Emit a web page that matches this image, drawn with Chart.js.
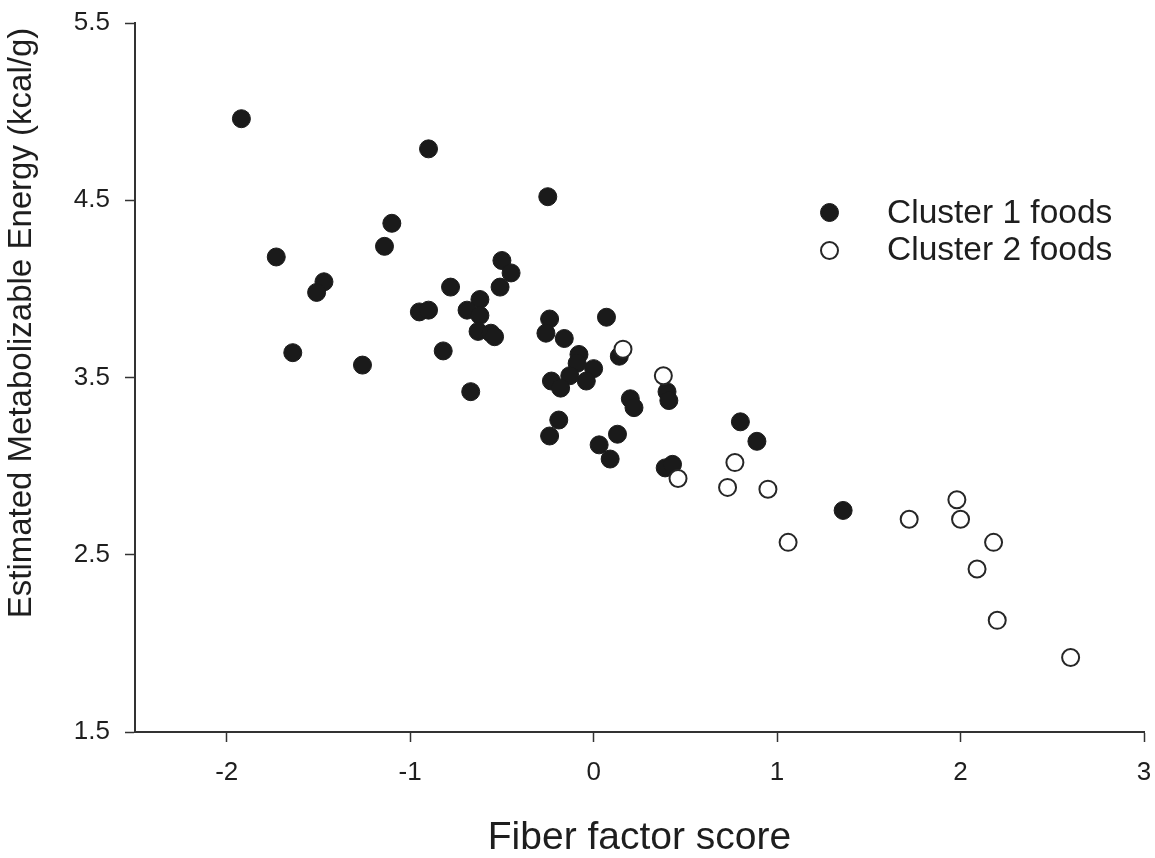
<!DOCTYPE html>
<html>
<head>
<meta charset="utf-8">
<title>Fiber factor score vs estimated metabolizable energy</title>
<script src="https://cdn.jsdelivr.net/npm/chart.js@4/dist/chart.umd.min.js"></script>
<style>
    html, body { margin: 0; padding: 0; background: #fff; }
    .wrap { position: relative; width: 1155px; height: 858px; }
    .legend { position: absolute; left: 0; top: 0; font-family: 'Liberation Sans', Arial, sans-serif; font-size: 33.5px; color: #1e1e1e; }
    .legend-row { position: absolute; white-space: nowrap; line-height: 37px; }
    .legend-mark { position: absolute; box-sizing: border-box; border-radius: 50%; }
</style>
</head>
<body>
<div class="wrap">
    <canvas id="chart"></canvas>
    <div class="legend" id="legend"></div>
</div>
<script>
// values
const cluster1X = [-1.92, -0.90, -1.10, -1.14, -1.73, -0.50, -0.45, -1.47, -1.51, -0.78,
    -0.51, -0.62, -0.95, -0.90, -0.69, -0.62, -0.63, -0.56, -0.54, -1.64,
    -0.82, -1.26, -0.67, -0.25, -0.24, -0.26, -0.16, 0.07, 0.14, -0.08,
    -0.09, 0.00, -0.04, -0.13, -0.23, -0.18, 0.40, 0.41, 0.20, 0.22,
    -0.19, -0.24, 0.13, 0.03, 0.09, 0.39, 0.43, 0.80, 0.89, 1.36];
const cluster1Y = [4.96, 4.79, 4.37, 4.24, 4.18, 4.16, 4.09, 4.04, 3.98, 4.01,
    4.01, 3.94, 3.87, 3.88, 3.88, 3.85, 3.76, 3.75, 3.73, 3.64,
    3.65, 3.57, 3.42, 4.52, 3.83, 3.75, 3.72, 3.84, 3.62, 3.63,
    3.58, 3.55, 3.48, 3.51, 3.48, 3.44, 3.42, 3.37, 3.38, 3.33,
    3.26, 3.17, 3.18, 3.12, 3.04, 2.99, 3.01, 3.25, 3.14, 2.75];
const cluster2X = [0.16, 0.38, 0.46, 0.77, 0.73, 0.95, 1.06, 1.72, 1.98, 2.00, 2.18, 2.09, 2.20, 2.60];
const cluster2Y = [3.66, 3.51, 2.93, 3.02, 2.88, 2.87, 2.57, 2.70, 2.81, 2.70, 2.57, 2.42, 2.13, 1.92];
const seriesLabels = ['Cluster 1 foods', 'Cluster 2 foods'];
const xTicks = [-2, -1, 0, 1, 2, 3];
const yTicks = [1.5, 2.5, 3.5, 4.5, 5.5];

const fontFamily = "'Liberation Sans', Arial, sans-serif";
const ink = '#1e1e1e';
const axisColor = '#333333';

function toPoints(xs, ys) {
    return xs.map((x, i) => ({ x, y: ys[i] }));
}

// y title sits a little above the axis centre in the original, so draw it here
const yTitlePlugin = {
    id: 'yTitle',
    afterDraw(chart, args, opts) {
        const { ctx } = chart;
        ctx.save();
        ctx.translate(opts.x, opts.y);
        ctx.rotate(-Math.PI / 2);
        ctx.font = `${opts.size}px ${fontFamily}`;
        ctx.fillStyle = ink;
        ctx.textAlign = 'center';
        ctx.textBaseline = 'middle';
        ctx.fillText(opts.text, 0, 0);
        ctx.restore();
    },
};

function axis(ticks, extra) {
    return {
        type: 'linear',
        afterBuildTicks: (scale) => {
            scale.ticks = ticks.map((v) => ({ value: v }));
        },
        border: { display: true, color: axisColor, width: 2 },
        grid: {
            display: true,
            drawOnChartArea: false,
            drawTicks: true,
            tickLength: 10,
            tickColor: axisColor,
            tickWidth: 1.5,
        },
        ...extra,
    };
}

const canvas = document.getElementById('chart');
const chart = new Chart(canvas, {
    type: 'scatter',
    data: {
        datasets: [
            {
                label: seriesLabels[0],
                data: toPoints(cluster1X, cluster1Y),
                backgroundColor: '#1a1a1a',
                borderColor: '#1a1a1a',
                borderWidth: 1,
                pointRadius: 9,
                order: 1,
            },
            {
                label: seriesLabels[1],
                data: toPoints(cluster2X, cluster2Y),
                backgroundColor: '#ffffff',
                borderColor: '#262626',
                borderWidth: 2,
                pointRadius: 8.5,
                order: 0,
            },
        ],
    },
    options: {
        responsive: true,
        maintainAspectRatio: false,
        animation: false,
        events: [],
        layout: { padding: { top: 23, right: 11, left: 0, bottom: 0 } },
        font: { family: fontFamily },
        plugins: {
            legend: { display: false },
            tooltip: { enabled: false },
            yTitle: { text: 'Estimated Metabolizable Energy (kcal/g)', x: 22, y: 323, size: 33 },
        },
        scales: {
            x: axis(xTicks, {
                min: -2.5,
                max: 3,
                afterFit: (scale) => {
                    scale.height = 126;
                    scale.paddingLeft = 0;
                    scale.paddingRight = 0;
                },
                ticks: { color: ink, padding: 15, font: { family: fontFamily, size: 26 } },
                title: {
                    display: true,
                    text: 'Fiber factor score',
                    color: ink,
                    font: { family: fontFamily, size: 39, lineHeight: 1 },
                    padding: { top: 0, bottom: 0 },
                },
            }),
            y: axis(yTicks, {
                min: 1.5,
                max: 5.5,
                afterFit: (scale) => {
                    scale.width = 135;
                    scale.paddingTop = 0;
                    scale.paddingBottom = 0;
                },
                ticks: { color: ink, padding: 15, font: { family: fontFamily, size: 26 } },
            }),
        },
    },
    plugins: [yTitlePlugin],
});

// legend placed inside the plot like the original
const legendEl = document.getElementById('legend');
chart.data.datasets.forEach((ds, i) => {
    const rowTop = 193 + i * 37;
    const d = ds.pointRadius * 2 + ds.borderWidth;
    const mark = document.createElement('div');
    mark.className = 'legend-mark';
    mark.style.width = d + 'px';
    mark.style.height = d + 'px';
    mark.style.left = (829 - d / 2) + 'px';
    mark.style.top = (212 + i * 38 - d / 2) + 'px';
    mark.style.background = ds.backgroundColor;
    mark.style.border = `${ds.borderWidth}px solid ${ds.borderColor}`;
    legendEl.appendChild(mark);

    const row = document.createElement('div');
    row.className = 'legend-row';
    row.style.left = '887px';
    row.style.top = rowTop + 'px';
    row.textContent = ds.label;
    legendEl.appendChild(row);
});
</script>
</body>
</html>
